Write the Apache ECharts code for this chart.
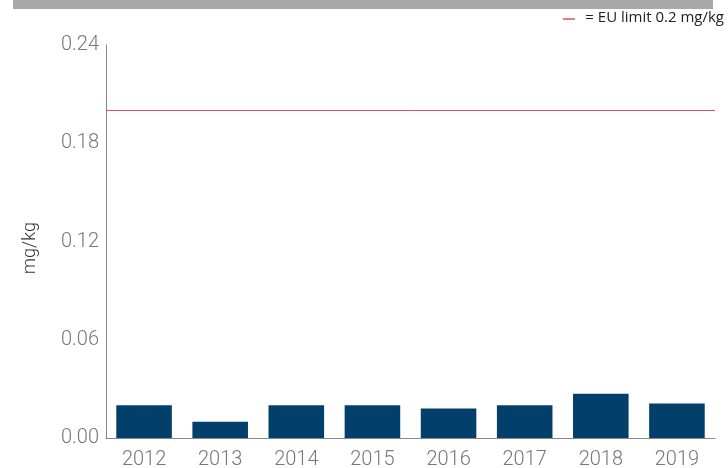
<!DOCTYPE html>
<html>
<head>
<meta charset="utf-8">
<script src="https://cdn.jsdelivr.net/npm/echarts@6/dist/echarts.min.js"></script>
<style>
  html, body { margin: 0; padding: 0; background: #fff; }
  #chart { width: 728px; height: 468px; }
</style>
</head>
<body>
<div id="chart"></div>
<script>
// data
const years = ["2012", "2013", "2014", "2015", "2016", "2017", "2018", "2019"];
const values = [0.020, 0.010, 0.020, 0.020, 0.018, 0.020, 0.027, 0.021];
const euLimit = 0.2;
const yTicks = [0, 0.06, 0.12, 0.18, 0.24];

const chart = echarts.init(document.getElementById("chart"));
const labelFont = { color: "#777", fontSize: 20, fontFamily: "Roboto", fontWeight: 300 };

const option = {
  animation: false,
  grid: { left: 106, right: 13, top: 45, bottom: 30, outerBoundsMode: "none", containLabel: false },
  graphic: [
    // grey strip on top
    { type: "rect", left: 13, top: 0, shape: { width: 700, height: 9 }, style: { fill: "#a8a8a8" } },
    // legend for the limit line
    { type: "line", shape: { x1: 563, y1: 19, x2: 575, y2: 19 }, style: { stroke: "#d9534f", lineWidth: 1.5 } },
    {
      type: "text", right: 4, top: 10,
      style: { text: "= EU limit 0.2 mg/kg", fill: "#222", fontSize: 15, fontFamily: "Liberation Sans Narrow, Open Sans" }
    },
    // y axis title
    {
      type: "text", x: 30, y: 248, rotation: Math.PI / 2,
      style: {
        text: "mg/kg", fill: "#333", fontSize: 18, fontFamily: "Roboto", fontWeight: 300,
        align: "center", verticalAlign: "middle"
      }
    }
  ],
  xAxis: {
    type: "category",
    data: years,
    axisLine: { lineStyle: { color: "#8c8585", width: 1 } },
    axisTick: { show: false },
    axisLabel: Object.assign({ margin: 12 }, labelFont)
  },
  yAxis: {
    type: "value",
    min: yTicks[0],
    max: yTicks[yTicks.length - 1],
    interval: 0.06,
    axisLine: { show: true, lineStyle: { color: "#8c8585", width: 1 } },
    axisTick: { show: false },
    splitLine: { show: false },
    axisLabel: Object.assign({ margin: 7, formatter: (v) => v.toFixed(2) }, labelFont)
  },
  series: [
    {
      type: "bar",
      data: values,
      barWidth: "73%",
      itemStyle: { color: "#02406b" },
      markLine: {
        symbol: "none",
        silent: true,
        label: { show: false },
        lineStyle: { color: "#d9534f", width: 1, type: "solid" },
        data: [{ yAxis: euLimit }]
      }
    }
  ]
};
chart.setOption(option);
</script>
</body>
</html>
